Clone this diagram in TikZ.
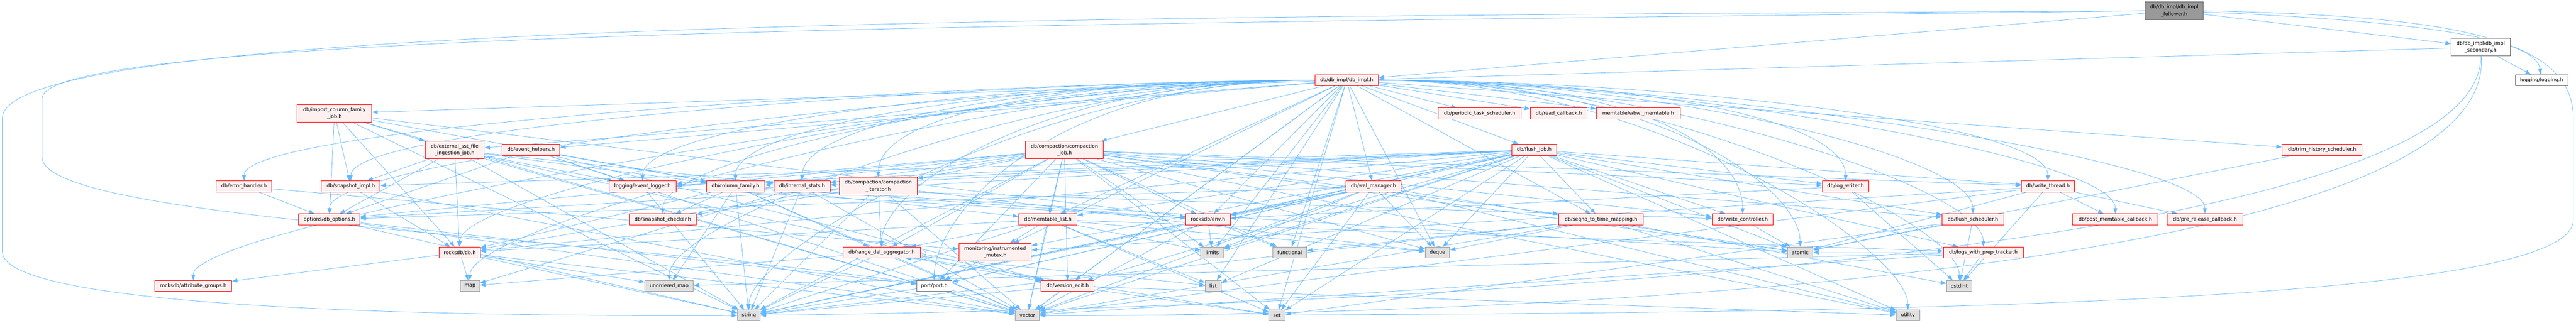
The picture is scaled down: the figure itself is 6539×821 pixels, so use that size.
\documentclass[tikz,border=0pt]{standalone}
\usepackage{fontspec}
\setmainfont{DejaVu Sans}
\usetikzlibrary{arrows.meta,backgrounds}

\definecolor{incblue}{HTML}{63B8FF}
\definecolor{truncfill}{HTML}{FFF0F0}
\definecolor{sysfill}{HTML}{E0E0E0}
\definecolor{sysline}{HTML}{999999}
\definecolor{docline}{HTML}{666666}

\begin{document}
\begin{tikzpicture}[x=1pt, y=1pt, >={Triangle[length=14pt,width=10pt]},
  box/.style={rectangle, draw, line width=1.3pt, inner sep=0pt, minimum height=28, align=center, font=\fontsize{12.5}{17.5}\selectfont},
  hdr/.style={box, draw=red, fill=truncfill},
  sys/.style={box, draw=sysline, fill=sysfill},
  doc/.style={box, draw=docline, fill=white},
  root/.style={box, draw=docline, fill=sysline},
  tall/.style={minimum height=45},
  inc/.style={->, draw=incblue, line width=1pt}]

\useasboundingbox (0,0) rectangle (6539,-821);

% top of the graph
\node (follower) at (5519,-27.5)[root, tall, minimum width=148]{db/db\_impl/db\_impl\\\_follower.h};
\node (secondary) at (6297,-120)[doc, tall, minimum width=150]{db/db\_impl/db\_impl\\\_secondary.h};
\node (dbimpl) at (3418.5,-204)[hdr, minimum width=161]{db/db\_impl/db\_impl.h};
\node (logging) at (6451.5,-204)[doc, minimum width=133]{logging/logging.h};

% second and third rows
\node (importjob) at (849,-288.5)[hdr, tall, minimum width=190]{db/import\_column\_family\\\_job.h};
\node (periodic) at (3756,-288.5)[hdr, minimum width=210]{db/periodic\_task\_scheduler.h};
\node (readcb) at (3957,-288.5)[hdr, minimum width=144]{db/read\_callback.h};
\node (wbwi) at (4158.5,-288.5)[hdr, minimum width=213]{memtable/wbwi\_memtable.h};

\node (extsst) at (1154,-381.5)[hdr, tall, minimum width=150]{db/external\_sst\_file\\\_ingestion\_job.h};
\node (eventhelpers) at (1348,-381)[hdr, minimum width=146]{db/event\_helpers.h};
\node (compjob) at (2702,-381.5)[hdr, tall, minimum width=198]{db/compaction/compaction\\\_job.h};
\node (flushjob) at (3894.5,-381)[hdr, minimum width=113]{db/flush\_job.h};
\node (trimhist) at (5894.5,-381)[hdr, minimum width=203]{db/trim\_history\_scheduler.h};

% middle rows
\node (errhandler) at (619.5,-474)[hdr, minimum width=141]{db/error\_handler.h};
\node (snapimpl) at (890.5,-474)[hdr, minimum width=149]{db/snapshot\_impl.h};
\node (eventlogger) at (1631,-474)[hdr, minimum width=170]{logging/event\_logger.h};
\node (colfamily) at (1867,-474)[hdr, minimum width=148]{db/column\_family.h};
\node (intstats) at (2036,-474)[hdr, minimum width=142]{db/internal\_stats.h};
\node (compiter) at (2229.5,-473.5)[hdr, tall, minimum width=197]{db/compaction/compaction\\\_iterator.h};
\node (walmgr) at (3486.5,-474)[hdr, minimum width=141]{db/wal\_manager.h};
\node (logwriter) at (4685,-474)[hdr, minimum width=118]{db/log\_writer.h};
\node (writethread) at (5198.5,-474)[hdr, minimum width=135]{db/write\_thread.h};

\node (dboptions) at (836,-558)[hdr, minimum width=156]{options/db\_options.h};
\node (snapchecker) at (1682.5,-558)[hdr, minimum width=169]{db/snapshot\_checker.h};
\node (memlist) at (2660,-558)[hdr, minimum width=148]{db/memtable\_list.h};
\node (env) at (3066.5,-558)[hdr, minimum width=113]{rocksdb/env.h};
\node (seqno) at (4064,-558)[hdr, minimum width=214]{db/seqno\_to\_time\_mapping.h};
\node (writectrl) at (4423.5,-558)[hdr, minimum width=155]{db/write\_controller.h};
\node (flushsched) at (5008,-558)[hdr, minimum width=156]{db/flush\_scheduler.h};
\node (postmem) at (5369.5,-558)[hdr, minimum width=217]{db/post\_memtable\_callback.h};
\node (prerel) at (5597,-558)[hdr, minimum width=192]{db/pre\_release\_callback.h};

\node (rdb) at (1167,-642)[hdr, minimum width=104]{rocksdb/db.h};
\node (rangedel) at (2238,-642)[hdr, minimum width=196]{db/range\_del\_aggregator.h};
\node (instmutex) at (2526,-641.5)[hdr, tall, minimum width=184]{monitoring/instrumented\\\_mutex.h};
\node (limits) at (3077,-642)[sys, minimum width=58]{limits};
\node (functional) at (3274,-642)[sys, minimum width=86]{functional};
\node (deque) at (3649,-642)[sys, minimum width=62]{deque};
\node (atomic) at (4569.5,-642)[sys, minimum width=65]{atomic};
\node (logsprep) at (5034.5,-642)[hdr, minimum width=203]{db/logs\_with\_prep\_tracker.h};

% bottom rows
\node (attrgroups) at (490.5,-727)[hdr, minimum width=195]{rocksdb/attribute\_groups.h};
\node (map) at (1193,-727)[sys, minimum width=50]{map};
\node (umap) at (1698.5,-727)[sys, minimum width=123]{unordered\_map};
\node (port) at (2371.5,-727)[doc, minimum width=89]{port/port.h};
\node (versionedit) at (2710,-727)[hdr, minimum width=134]{db/version\_edit.h};
\node (list) at (3079.5,-727)[sys, minimum width=41]{list};
\node (cstdint) at (4973.5,-727)[sys, minimum width=65]{cstdint};

\node (string) at (1901,-802)[sys, minimum width=58]{string};
\node (vector) at (2608,-802)[sys, minimum width=62]{vector};
\node (set) at (3241.5,-802)[sys, minimum width=41]{set};
\node (utility) at (4843,-802)[sys, minimum width=60]{utility};

\begin{scope}[on background layer]
\fill[white] (0,0) rectangle (6539,-821);

% follower and secondary
\draw[inc] (follower) -- (dbimpl);
\draw[inc] (follower) -- (secondary);
\draw[inc] (follower) .. controls (6300,-60) and (6440,-120) .. (logging);
\draw[inc] (follower.west) .. controls (3000,-42) and (6,-45) .. (6,-300) -- (6,-640) .. controls (6,-790) and (1200,-805) .. (string.west);
\draw[inc] (follower.west) .. controls (3000,-60) and (107,-70) .. (107,-250) -- (107,-400) .. controls (107,-560) and (1500,-600) .. (port);
\draw[inc] (follower.east) .. controls (6200,-40) and (6532,-90) .. (6532,-300) -- (6532,-560) .. controls (6532,-790) and (4500,-800) .. (vector.east);
\draw[inc] (secondary) -- (dbimpl);
\draw[inc] (secondary) -- (logging);
\draw[inc] (secondary) .. controls (6300,-700) and (3000,-790) .. (string);
\draw[inc] (secondary) .. controls (6340,-740) and (3500,-805) .. (vector);

% db_impl.h
\foreach \t in {importjob,extsst,eventhelpers,compjob,periodic,readcb,wbwi,flushjob,trimhist,walmgr,env,memlist,seqno,limits,functional,deque,list,set,versionedit,vector,instmutex}
  \draw[inc] (dbimpl) -- (\t);
\foreach \t in {errhandler,snapimpl,eventlogger,colfamily,intstats,compiter,dboptions,snapchecker,rdb,rangedel,attrgroups,map,umap,port,string}
  \draw[inc] (dbimpl.west) .. controls +(-700,0) and +(0,150) .. (\t.north);
\foreach \t in {logwriter,writethread,writectrl,flushsched,postmem,prerel,atomic,logsprep,cstdint,utility}
  \draw[inc] (dbimpl.east) .. controls +(700,0) and +(0,150) .. (\t.north);

% headers included by the headers
\foreach \t in {extsst,snapimpl,dboptions,colfamily,rdb,env,string,vector}
  \draw[inc] (importjob) -- (\t);
\foreach \t in {colfamily,intstats,snapimpl,versionedit,eventlogger,dboptions,rdb,string,vector}
  \draw[inc] (extsst) -- (\t);
\foreach \t in {colfamily,versionedit,eventlogger,dboptions,vector}
  \draw[inc] (eventhelpers) -- (\t);
\foreach \t in {colfamily,compiter,flushsched,intstats,logwriter,memlist,rangedel,seqno,versionedit,writectrl,writethread,eventlogger,dboptions,port,rdb,env,atomic,deque,functional,limits,set,string,utility,vector}
  \draw[inc] (compjob) -- (\t);
\foreach \t in {colfamily,flushsched,intstats,logwriter,logsprep,memlist,seqno,snapimpl,versionedit,writectrl,writethread,eventlogger,instmutex,dboptions,port,rdb,env,atomic,deque,limits,list,set,string,utility,vector}
  \draw[inc] (flushjob) -- (\t);
\draw[inc] (trimhist) -- (atomic);
\foreach \t in {dboptions,instmutex}
  \draw[inc] (errhandler) -- (\t);
\foreach \t in {rdb,vector}
  \draw[inc] (snapimpl) -- (\t);
\foreach \t in {env,string}
  \draw[inc] (eventlogger) -- (\t);
\foreach \t in {memlist,rangedel,writectrl,snapchecker,rdb,env,atomic,string,umap,vector}
  \draw[inc] (colfamily) -- (\t);
\foreach \t in {map,string,vector}
  \draw[inc] (intstats) -- (\t);
\foreach \t in {rangedel,snapchecker,deque,string,vector}
  \draw[inc] (compiter) -- (\t);
\foreach \t in {dboptions,port,env,atomic,deque,limits,set,string,utility,vector}
  \draw[inc] (walmgr) -- (\t);
\foreach \t in {env,cstdint}
  \draw[inc] (logwriter) -- (\t);
\foreach \t in {postmem,prerel,instmutex,atomic,vector,cstdint}
  \draw[inc] (writethread) -- (\t);
\foreach \t in {port,string,vector}
  \draw[inc] (dboptions) -- (\t);
\foreach \t in {logsprep,rangedel,instmutex,rdb,deque,limits,list,set,string,vector}
  \draw[inc] (memlist) -- (\t);
\foreach \t in {functional,limits,string,vector}
  \draw[inc] (env) -- (\t);
\foreach \t in {cstdint,deque,functional,string,utility,vector}
  \draw[inc] (seqno) -- (\t);
\draw[inc] (writectrl) -- (atomic);
\foreach \t in {atomic,set,cstdint}
  \draw[inc] (flushsched) -- (\t);
\foreach \t in {attrgroups,map,string,umap,vector}
  \draw[inc] (rdb) -- (\t);
\foreach \t in {versionedit,list,map,set,string,vector}
  \draw[inc] (rangedel) -- (\t);
\draw[inc] ([xshift=54]rangedel.north) .. controls +(70,5) and +(70,-5) .. ([xshift=61]rangedel.south);
\draw[inc] (instmutex) -- (port);
\foreach \t in {atomic,cstdint,umap,vector}
  \draw[inc] (logsprep) -- (\t);
\foreach \t in {set,string,utility,vector}
  \draw[inc] (versionedit) -- (\t);
\draw[inc] (port) -- (string);
\end{scope}

\end{tikzpicture}
\end{document}
